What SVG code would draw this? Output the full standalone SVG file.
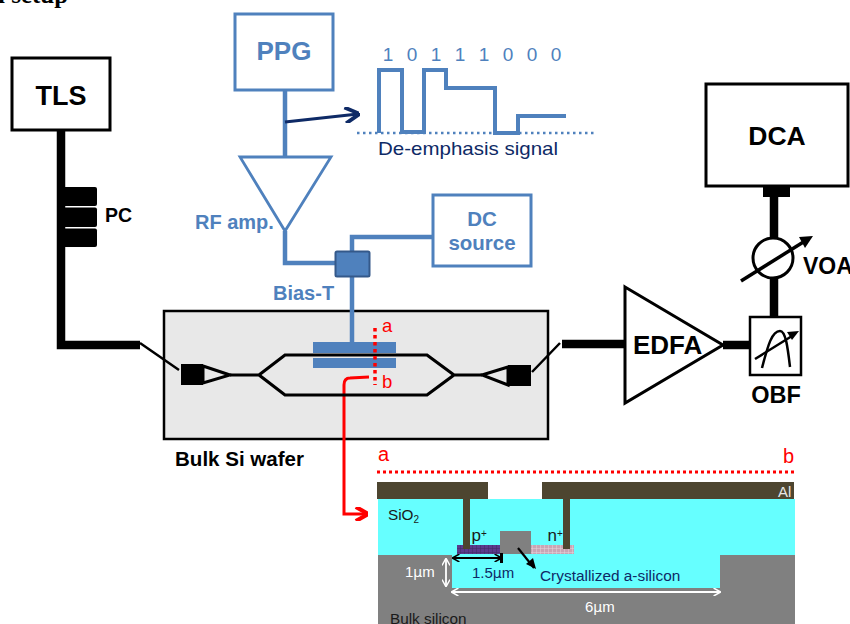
<svg xmlns="http://www.w3.org/2000/svg" width="850" height="624" viewBox="0 0 850 624">
<style>
text{font-family:"Liberation Sans",Arial,sans-serif}
.bk{font-weight:bold;fill:#000}
.bl{font-weight:bold;fill:#4f81bd}
.r{fill:#f00}
.box{fill:#fff;stroke:#000;stroke-width:3}
.bbox{fill:#fff;stroke:#4f81bd;stroke-width:3}
.fib{fill:none;stroke:#000;stroke-width:8.5}
.wg{fill:none;stroke:#000;stroke-width:3.2;stroke-linejoin:miter}
.rf{fill:none;stroke:#4f81bd;stroke-width:4.5}
.sm{font-size:15.3px;fill:#1a1a1a}
.pn{font-size:17px;fill:#1a1a1a}
.wh{font-size:15px;fill:#fff}
.mu{font-family:"DejaVu Sans",sans-serif;font-size:14px}
</style>
<defs>
<marker id="navy" viewBox="0 0 10 10" markerWidth="16" markerHeight="16" markerUnits="userSpaceOnUse" refX="9" refY="5" orient="auto"><path d="M1 0L10 5L1 10" fill="none" stroke="#0e2a66" stroke-width="2.4"/></marker>
<marker id="red" viewBox="0 0 10 10" markerWidth="14" markerHeight="14" markerUnits="userSpaceOnUse" refX="9" refY="5" orient="auto"><path d="M1 0L10 5L1 10" fill="none" stroke="#f00" stroke-width="3"/></marker>
<marker id="wo" viewBox="0 0 10 10" markerWidth="8" markerHeight="8" markerUnits="userSpaceOnUse" orient="auto-start-reverse" refX="9" refY="5"><path d="M1 0L10 5L1 10" fill="none" stroke="#fff" stroke-width="1.8"/></marker>
<marker id="bo" viewBox="0 0 10 10" markerWidth="8" markerHeight="8" markerUnits="userSpaceOnUse" orient="auto-start-reverse" refX="9" refY="5"><path d="M1 0L10 5L1 10" fill="none" stroke="#000" stroke-width="1.8"/></marker>
<pattern id="pp" width="4" height="4" patternUnits="userSpaceOnUse"><rect width="4" height="4" fill="#5b3a8c"/><path d="M0 0H4M0 0V4" stroke="#3f2a5e" stroke-width="1"/></pattern>
<pattern id="np" width="4" height="4" patternUnits="userSpaceOnUse"><rect width="4" height="4" fill="#c9a5b4"/><path d="M0 0H4M0 0V4" stroke="#e6d5dc" stroke-width="1"/></pattern>
</defs>

<text x="-2" y="3" style="font-family:'Liberation Serif',serif;font-weight:bold;font-size:25px" fill="#000">l setup</text>

<g id="chip"><rect x="164" y="311" width="384" height="128" fill="#e8e8e8" stroke="#000" stroke-width="2.5"/></g>

<g id="connectors">
<path class="fib" d="M61 130V345H140"/>
<path d="M140 343L179 370M532 372L560 343" fill="none" stroke="#000" stroke-width="2.5"/>
<path class="fib" d="M562 344H625"/>
<path class="fib" d="M723 345H750"/>
<path class="fib" d="M774 197V238M774 278V317"/>
<path class="rf" d="M285 90V157M285 231V263H336M352 251V237H433M352 277V343"/>
<path d="M285 122L358 114" fill="none" stroke="#0e2a66" stroke-width="3" marker-end="url(#navy)"/>
<path d="M369 377L350 378Q344 378 344 385V514H367" fill="none" stroke="#f00" stroke-width="3" marker-end="url(#red)"/>
</g>

<g id="tls"><rect class="box" x="12" y="58" width="98" height="72" stroke-width="3.5"/><text class="bk" x="61" y="105" font-size="27" text-anchor="middle">TLS</text></g>
<g id="pc"><rect x="60" y="187" width="37" height="19" rx="2"/><rect x="60" y="207.5" width="37" height="19.5" rx="2"/><rect x="60" y="228.5" width="37" height="18.5" rx="2"/><text class="bk" x="105" y="222" font-size="19.5">PC</text></g>
<g id="ppg"><rect class="bbox" x="235" y="14" width="98" height="76"/><text class="bl" x="284" y="60" font-size="26" text-anchor="middle">PPG</text></g>
<g id="rfamp"><path d="M240 157H331L285 231z" fill="#fff" stroke="#4f81bd" stroke-width="2.8"/><text class="bl" x="195" y="229" font-size="20">RF amp.</text></g>
<g id="biast"><rect x="335.5" y="251.5" width="34" height="25" rx="1.5" fill="#4f81bd" stroke="#34598a" stroke-width="2"/><text class="bl" x="273" y="300" font-size="20">Bias-T</text></g>
<g id="dc"><rect class="bbox" x="433" y="195" width="98" height="71"/><text class="bl" x="482" y="226" font-size="20.5" text-anchor="middle">DC</text><text class="bl" x="482" y="250" font-size="20.5" text-anchor="middle">source</text></g>

<g id="signal">
<path d="M379 133V70H402V132H424V70H446V88H495V133H518V116H566" fill="none" stroke="#4f81bd" stroke-width="4"/>
<path d="M357 133H595" fill="none" stroke="#4f81bd" stroke-width="2.5" stroke-dasharray="2.5 3.5"/>
<g font-size="19" fill="#4f81bd" text-anchor="middle"><text x="388" y="61">1</text><text x="412" y="61">0</text><text x="436" y="61">1</text><text x="460" y="61">1</text><text x="484" y="61">1</text><text x="508" y="61">0</text><text x="532" y="61">0</text><text x="556" y="61">0</text></g>
<text x="378" y="155" font-size="18.5" fill="#0e2a66" textLength="180" lengthAdjust="spacingAndGlyphs">De-emphasis signal</text>
</g>

<g id="mzm">
<rect x="313" y="342" width="83" height="11" fill="#4f81bd"/><rect x="313" y="358" width="83" height="10" fill="#4f81bd"/>
<path class="wg" d="M230 375H259L285 355H427L454 375H482M259 375L285 395H427L454 375"/>
<path d="M203 366L230 375L203 383z" fill="#e8e8e8" stroke="#000" stroke-width="3"/>
<rect x="181" y="364" width="22" height="21"/>
<path d="M508 367L482 375L508 385z" fill="#e8e8e8" stroke="#000" stroke-width="3"/>
<rect x="508" y="365" width="23" height="21"/>
<path d="M375 328V385" stroke="#f00" stroke-width="3.5" stroke-dasharray="3.5 3.5" fill="none"/>
<text class="r" font-size="18.5" x="382" y="332">a</text><text class="r" font-size="18.5" x="382" y="388">b</text>
</g>
<text id="wafer" class="bk" x="175" y="466" font-size="20" textLength="129" lengthAdjust="spacingAndGlyphs">Bulk Si wafer</text>

<g id="edfa"><path d="M625 287L723 345L625 403z" fill="#fff" stroke="#000" stroke-width="3"/><text class="bk" x="633" y="354" font-size="26">EDFA</text></g>
<g id="dca"><rect class="box" x="706" y="84" width="142" height="102"/><text class="bk" x="777" y="145" font-size="26.5" text-anchor="middle">DCA</text><rect x="763" y="186" width="27" height="11"/></g>
<g id="voa"><circle cx="773" cy="258" r="20" fill="#fff" stroke="#000" stroke-width="3"/><path d="M741 281L805 241" stroke="#000" stroke-width="3.5" fill="none"/><path d="M813 236L799 237L805 248z"/><text class="bk" x="803" y="274" font-size="23">VOA</text></g>
<g id="obf"><rect x="750" y="317" width="51" height="58" fill="#fff" stroke="#000" stroke-width="2.5"/>
<path d="M762 368C768 345 772 331 780 331C786 331 788 350 790 367" fill="none" stroke="#000" stroke-width="2.5"/>
<path d="M755 359L792 336" stroke="#000" stroke-width="2.5" fill="none"/><path d="M799 331L787 332L792 340z"/>
<text class="bk" x="776" y="403" font-size="23.5" text-anchor="middle">OBF</text></g>

<g id="section">
<text class="r" x="378" y="461" font-size="20">a</text><text class="r" x="783" y="463" font-size="20">b</text>
<path d="M377 472H795" stroke="#f00" stroke-width="3" stroke-dasharray="3 3" fill="none"/>
<rect x="378" y="499" width="417" height="56" fill="#66ffff"/>
<rect x="378" y="555" width="417" height="69" fill="#808080"/>
<rect x="452" y="555" width="268" height="33" fill="#66ffff"/>
<rect x="720" y="555" width="75" height="33" fill="#808080"/>
<path d="M377 482H488V499H377zM542 482H794V499H542z" fill="#4d4530"/>
<rect x="457" y="545" width="44" height="9" fill="url(#pp)"/>
<rect x="530" y="545" width="44" height="9" fill="url(#np)"/>
<rect x="500" y="531" width="31" height="23" fill="#808080"/>
<rect x="463" y="499" width="7" height="50" fill="#4d4530"/>
<rect x="563" y="499" width="7" height="50" fill="#4d4530"/>
<text x="778" y="497" font-size="15" fill="#e6e6e6">Al</text>
<text class="sm" x="388" y="520">SiO<tspan font-size="10" dy="3">2</tspan></text>
<text class="pn" x="471.5" y="541">p<tspan font-size="10" dy="-4">+</tspan></text>
<text class="pn" x="547.5" y="541">n<tspan font-size="10" dy="-4">+</tspan></text>
<path d="M453 558H501" fill="none" stroke="#000" stroke-width="1.8" marker-start="url(#bo)" marker-end="url(#bo)"/>
<rect x="500" y="553" width="3" height="10"/>
<path d="M518 548L534 568" stroke="#000" stroke-width="2.2" fill="none"/><path d="M536 569L526 564L533 558z"/>
<text x="472" y="578" font-size="15" fill="#0e2a66">1.5<tspan class="mu">μ</tspan>m</text>
<text x="540" y="581" font-size="15.4" fill="#0e2a66">Crystallized a-silicon</text>
<path d="M446 559V586" fill="none" stroke="#fff" stroke-width="1.8" marker-start="url(#wo)" marker-end="url(#wo)"/>
<text class="wh" x="405" y="577">1<tspan class="mu">μ</tspan>m</text>
<path d="M452 592H720" fill="none" stroke="#fff" stroke-width="1.8" marker-start="url(#wo)" marker-end="url(#wo)"/>
<text class="wh" x="585" y="612">6<tspan class="mu">μ</tspan>m</text>
<text class="sm" x="390" y="624">Bulk silicon</text>
</g>
</svg>
